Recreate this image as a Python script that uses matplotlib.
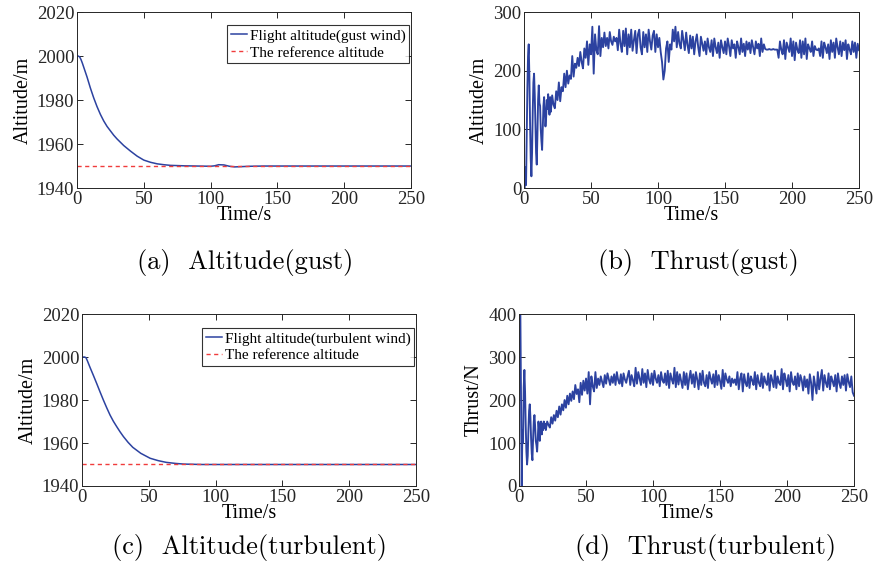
import numpy as np
import matplotlib
matplotlib.use("Agg")
import matplotlib.pyplot as plt

# altitude under gust wind (panel a)
gust_alt_t = [0, 1, 2, 3, 4, 5, 7.5, 10, 12.5, 15, 17.5, 20, 22.5, 25, 27.5, 30, 35, 40, 45, 50,
              55, 60, 65, 70, 80, 90, 100, 103, 106, 110, 114, 118, 122, 130, 140, 250]
gust_alt = [2000, 2000, 1999.6, 1998.4, 1996.8, 1995, 1990.5, 1985.5, 1981, 1977, 1973.5,
            1970.5, 1968, 1966, 1964, 1962.3, 1959.3, 1956.8, 1954.5, 1952.7, 1951.7, 1951,
            1950.6, 1950.3, 1950.1, 1950, 1949.9, 1950.1, 1950.6, 1950.5, 1949.9, 1949.6,
            1949.7, 1949.9, 1950, 1950]

# altitude under turbulent wind (panel c)
turb_alt_t = [0, 2, 3, 4, 6, 8.5, 11, 13.5, 16, 18.5, 21, 23.5, 26, 28.5, 31, 34.5, 38, 44, 51,
              57, 63, 70, 76, 90, 250]
turb_alt = [2000, 2000, 1999.7, 1998.3, 1995.2, 1991.5, 1987.7, 1983.8, 1980, 1976.4, 1973,
            1970.1, 1967.6, 1965.2, 1963, 1960.3, 1958, 1955.2, 1952.9, 1951.8, 1951, 1950.5,
            1950.2, 1950, 1950]

ref_alt = 1950

# thrust under gust wind: first 20 s every 0.5 s, then every 1 s up to 250 s
gust_thrust_early = [0, 0, 35, 5, 90, 170, 225, 245, 190, 110, 50, 20, 60, 130, 180, 195, 160, 110,
                     60, 40, 90, 150, 175, 145, 140, 100, 80, 65, 100, 140, 155, 130, 105, 120,
                     150, 135, 160, 140, 125, 155]
gust_thrust = [
    130, 158, 142, 136, 165, 150, 180, 148, 172, 165,
    195, 172, 200, 178, 192, 186, 225, 190, 212, 205,
    222, 208, 232, 215, 204, 238, 222, 250, 210, 245,
    228, 275, 195, 262, 235, 228, 276, 225, 256, 240,
    265, 242, 256, 238, 266, 250, 244, 258, 250, 256,
    235, 270, 246, 232, 268, 242, 272, 228, 262, 240,
    270, 234, 252, 268, 230, 262, 270, 240, 228, 266,
    240, 262, 232, 270, 250, 236, 260, 268, 232, 262,
    240, 256, 232, 215, 185, 200, 238, 250, 215, 245,
    236, 270, 250, 275, 240, 266, 246, 238, 268, 252,
    235, 265, 244, 230, 260, 238, 258, 228, 250, 262,
    240, 225, 258, 246, 234, 250, 228, 255, 240, 232,
    252, 225, 255, 240, 230, 248, 222, 252, 240, 230,
    250, 228, 255, 242, 225, 252, 238, 245, 222, 250,
    240, 228, 255, 232, 246, 225, 250, 236, 248, 230,
    252, 240, 228, 250, 238, 246, 225, 255, 232, 245,
    237, 236, 236, 237, 236, 236, 237, 236, 236, 236,
    222, 250, 236, 228, 252, 220, 248, 240, 232, 255,
    225, 250, 218, 248, 236, 230, 252, 222, 250, 228,
    255, 220, 245, 238, 232, 250, 225, 242, 236, 235,
    238, 225, 250, 222, 248, 240, 230, 245, 220, 252,
    232, 248, 222, 255, 240, 228, 250, 225, 248, 235,
    252, 220, 245, 236, 228, 250, 232, 248, 222, 246,
    235]

# thrust under turbulent wind
turb_thrust_early = [400, 400, 400, 200, 0, 130, 100, 230, 270, 220, 140, 80, 50, 70, 130, 175,
                     190, 160, 110, 75, 60, 110, 150, 165, 140, 105, 95, 80, 110, 150, 130, 105,
                     140, 150, 120, 145, 130, 150, 135, 145]
turb_thrust = [
    130, 150, 142, 136, 160, 145, 165, 152, 175, 160,
    185, 166, 190, 176, 200, 182, 210, 190, 215, 198,
    220, 202, 235, 214, 225, 195, 240, 212, 245, 222,
    250, 215, 265, 190, 255, 232, 220, 265, 228, 250,
    235, 255, 242, 230, 258, 238, 262, 248, 235, 255,
    240, 260, 235, 265, 246, 238, 260, 232, 262, 248,
    240, 255, 268, 235, 258, 246, 232, 275, 238, 265,
    250, 235, 272, 240, 262, 230, 270, 248, 238, 262,
    235, 268, 250, 240, 258, 232, 265, 246, 240, 262,
    235, 268, 228, 262, 248, 238, 275, 230, 265, 236,
    260, 244, 228, 265, 235, 262, 225, 250, 268, 238,
    260, 230, 265, 248, 225, 262, 235, 268, 240, 232,
    258, 228, 265, 250, 238, 260, 230, 268, 235, 258,
    244, 226, 270, 232, 262, 248, 240, 255, 232, 250,
    240, 248, 235, 265, 225, 250, 262, 220, 260, 240,
    232, 262, 228, 255, 246, 235, 265, 225, 258, 240,
    232, 262, 228, 255, 242, 235, 262, 222, 258, 246,
    230, 268, 228, 255, 240, 235, 272, 225, 262, 248,
    232, 258, 220, 265, 242, 235, 255, 225, 262, 232,
    258, 246, 222, 255, 230, 248, 215, 260, 240, 200,
    255, 235, 215, 265, 225, 250, 270, 222, 258, 240,
    230, 262, 225, 255, 244, 232, 258, 220, 262, 240,
    228, 255, 235, 258, 222, 260, 242, 230, 255, 218,
    210]

t_early = np.arange(0, 20, 0.5)
t_late = np.arange(20, 251, 1)

BLUE = '#2c42a0'
RED = '#f03c3c'
AX_COLOR = '#262626'

plt.rcParams['font.family'] = ['Liberation Serif', 'DejaVu Serif']


def style_axes(ax):
    ax.tick_params(direction='in', top=True, right=True, length=4, width=0.7,
                   colors=AX_COLOR, labelsize=13.5, pad=2)
    for s in ax.spines.values():
        s.set_color(AX_COLOR)
        s.set_linewidth(0.7)
    ax.set_xlim(0, 250)
    ax.set_xticks([0, 50, 100, 150, 200, 250])
    ax.set_xlabel('Time/s', fontsize=14.5, labelpad=-1)


fig = plt.figure(figsize=(8.76, 5.75), dpi=100)

ax_a = fig.add_axes([0.0879, 0.673, 0.3813, 0.306])
ax_b = fig.add_axes([0.5982, 0.673, 0.3824, 0.306])
ax_c = fig.add_axes([0.0936, 0.1548, 0.3813, 0.299])
ax_d = fig.add_axes([0.5925, 0.1548, 0.3824, 0.299])

# (a)
ax_a.plot(gust_alt_t, gust_alt, color=BLUE, lw=1.1, label='Flight altitude(gust wind)')
ax_a.axhline(ref_alt, color=RED, lw=1.0, ls=(0, (3, 2.5)), label='The reference altitude')
ax_a.set_ylim(1940, 2020)
ax_a.set_yticks([1940, 1960, 1980, 2000, 2020])
ax_a.set_ylabel('Altitude/m', fontsize=14.5, labelpad=3)

# (c)
ax_c.plot(turb_alt_t, turb_alt, color=BLUE, lw=1.1, label='Flight altitude(turbulent wind)')
ax_c.axhline(ref_alt, color=RED, lw=1.0, ls=(0, (3, 2.5)), label='The reference altitude')
ax_c.set_ylim(1940, 2020)
ax_c.set_yticks([1940, 1960, 1980, 2000, 2020])
ax_c.set_ylabel('Altitude/m', fontsize=14.5, labelpad=3)

for ax, top in ((ax_a, 0.926), (ax_c, 0.919)):
    leg = ax.legend(loc='upper right', bbox_to_anchor=(0.995, top), borderaxespad=0,
                    fontsize=11, frameon=True, fancybox=False,
                    handlelength=1.1, handletextpad=0.15, borderpad=0.25,
                    labelspacing=0.2)
    leg.get_frame().set_edgecolor('black')
    leg.get_frame().set_linewidth(0.8)

# (b)
ax_b.plot(np.concatenate([t_early, t_late]), gust_thrust_early + gust_thrust,
          color=BLUE, lw=1.35)
ax_b.set_ylim(0, 300)
ax_b.set_yticks([0, 100, 200, 300])
ax_b.set_ylabel('Altitude/m', fontsize=14.5, labelpad=3)

# (d)
ax_d.plot(np.concatenate([t_early, t_late]), turb_thrust_early + turb_thrust,
          color=BLUE, lw=1.35)
ax_d.set_ylim(0, 400)
ax_d.set_yticks([0, 100, 200, 300, 400])
ax_d.set_ylabel('Thrust/N', fontsize=14.5, labelpad=3)

for ax in (ax_a, ax_b, ax_c, ax_d):
    style_axes(ax)

cap = dict(family='cmr10', fontsize=19, ha='center', va='center')
fig.text(0.2797, 0.5443, '(a)  Altitude(gust)', **cap)
fig.text(0.797, 0.5443, '(b)  Thrust(gust)', **cap)
fig.text(0.285, 0.047, '(c)  Altitude(turbulent)', **cap)
fig.text(0.806, 0.047, '(d)  Thrust(turbulent)', **cap)

fig.savefig('out.png', dpi=100)
